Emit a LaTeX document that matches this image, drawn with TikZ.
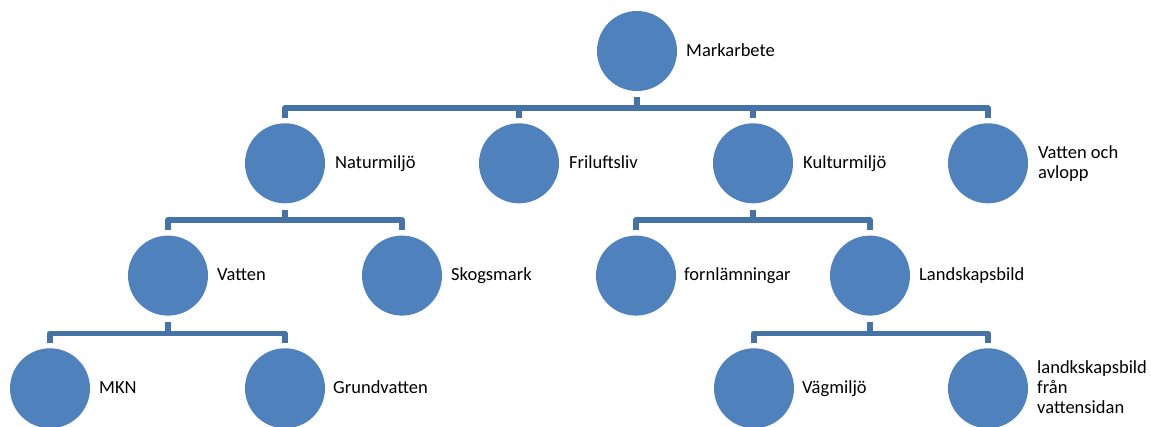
\documentclass[tikz,border=0pt]{standalone}
\usepackage{fontspec}
\setmainfont{Carlito}
\definecolor{circfill}{HTML}{4F81BD}
\definecolor{linecol}{HTML}{4572A7}
\begin{document}
\begin{tikzpicture}[x=1pt,y=-1pt,
  circ/.style={circle,fill=circfill,draw=none,minimum size=80pt,inner sep=0pt},
  lbl/.style={anchor=west,inner sep=0pt,align=left,font=\fontsize{18.5}{20}\selectfont,text=black},
  conn/.style={draw=linecol,line width=5.5pt,line join=round,line cap=butt}]
\useasboundingbox (0,0) rectangle (1151,426);
% level 0
\node[circ] (c0) at (637,51) {};
\node[lbl] (t0) at (686,52) {\strut Markarbete};
% level 1
\node[circ] (c1) at (285,163.3) {};
\node[circ] (c2) at (519,163.3) {};
\node[circ] (c3) at (753,163.3) {};
\node[circ] (c4) at (988,163.3) {};
\node[lbl] (t1) at (335,164.3) {\strut Naturmiljö};
\node[lbl] (t2) at (569,164.3) {\strut Friluftsliv};
\node[lbl] (t3) at (803,164.3) {\strut Kulturmiljö};
\node[lbl] (t4) at (1038,164.3) {\strut Vatten och\\\strut avlopp};
% level 2
\node[circ] (c11) at (168,275.6) {};
\node[circ] (c12) at (402,275.6) {};
\node[circ] (c31) at (636,275.6) {};
\node[circ] (c32) at (870,275.6) {};
\node[lbl] (t11) at (217,276.6) {\strut Vatten};
\node[lbl] (t12) at (451,276.6) {\strut Skogsmark};
\node[lbl] (t31) at (684,276.6) {\strut fornlämningar};
\node[lbl] (t32) at (919,276.6) {\strut Landskapsbild};
% level 3
\node[circ] (c111) at (50,388.3) {};
\node[circ] (c112) at (285,388.3) {};
\node[circ] (c321) at (754,388.3) {};
\node[circ] (c322) at (988,388.3) {};
\node[lbl] (t111) at (99,389.3) {\strut MKN};
\node[lbl] (t112) at (333,389.3) {\strut Grundvatten};
\node[lbl] (t321) at (802,389.3) {\strut Vägmiljö};
\node[lbl] (t322) at (1037,389.3) {\strut landkskapsbild\\\strut från\\\strut vattensidan};
% connectors
\path[conn] ([yshift=-6pt]c0.south) -- ++(0,11) -| ([yshift=5pt]c1.north);
\path[conn] ([yshift=-6pt]c0.south) -- ++(0,11) -| ([yshift=5pt]c2.north);
\path[conn] ([yshift=-6pt]c0.south) -- ++(0,11) -| ([yshift=5pt]c3.north);
\path[conn] ([yshift=-6pt]c0.south) -- ++(0,11) -| ([yshift=5pt]c4.north);
\path[conn] ([yshift=-6pt]c1.south) -- ++(0,10.7) -| ([yshift=5pt]c11.north);
\path[conn] ([yshift=-6pt]c1.south) -- ++(0,10.7) -| ([yshift=5pt]c12.north);
\path[conn] ([yshift=-6pt]c3.south) -- ++(0,10.7) -| ([yshift=5pt]c31.north);
\path[conn] ([yshift=-6pt]c3.south) -- ++(0,10.7) -| ([yshift=5pt]c32.north);
\path[conn] ([yshift=-6pt]c11.south) -- ++(0,11.5) -| ([yshift=5pt]c111.north);
\path[conn] ([yshift=-6pt]c11.south) -- ++(0,11.5) -| ([yshift=5pt]c112.north);
\path[conn] ([yshift=-6pt]c32.south) -- ++(0,11.5) -| ([yshift=5pt]c321.north);
\path[conn] ([yshift=-6pt]c32.south) -- ++(0,11.5) -| ([yshift=5pt]c322.north);
\end{tikzpicture}
\end{document}
